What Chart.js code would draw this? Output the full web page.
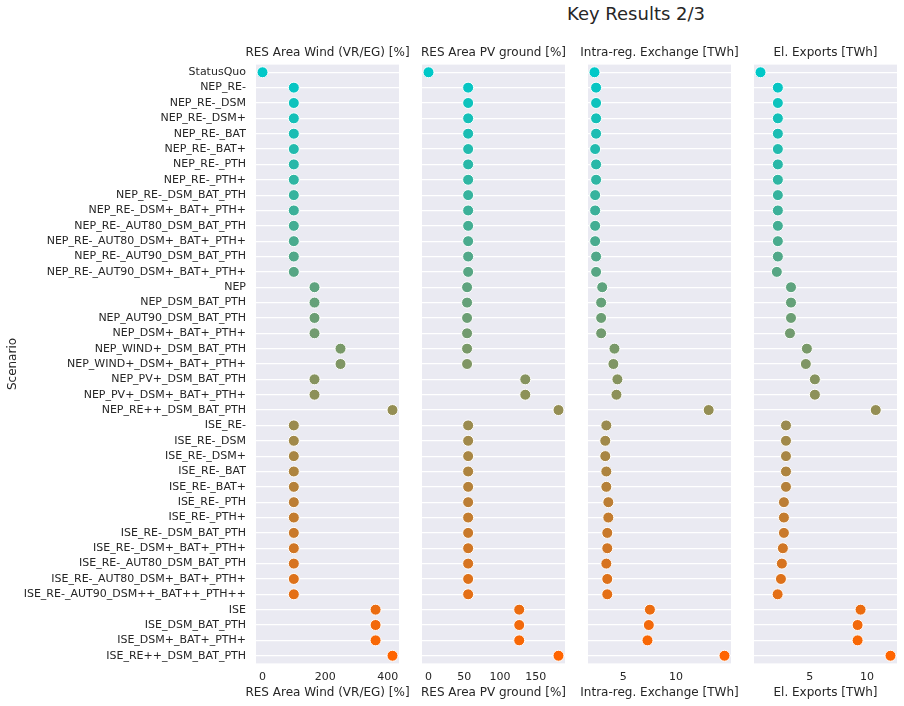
<!DOCTYPE html>
<html>
<head>
<meta charset="utf-8">
<script src="https://cdn.jsdelivr.net/npm/chart.js@4.4.0/dist/chart.umd.min.js"></script>
<style>
  html, body { margin: 0; padding: 0; background: #ffffff; }
  #wrap { position: relative; width: 904px; height: 706px; overflow: hidden; }
  #wrap canvas { position: absolute; top: 0; }
  #suptitle {
    position: absolute; top: 3px; left: 536px; width: 200px;
    text-align: center; font: 18px "DejaVu Sans", sans-serif; color: #262626;
  }
</style>
</head>
<body>
<div id="wrap">
  <div id="suptitle">Key Results 2/3</div>
  <canvas id="c1" width="420" height="706" style="left:0px"></canvas>
  <canvas id="c2" width="167" height="706" style="left:410px"></canvas>
  <canvas id="c3" width="170" height="706" style="left:575px"></canvas>
  <canvas id="c4" width="160" height="706" style="left:744px"></canvas>
</div>
<script>
// scenario names, top to bottom
const scenarios = [
  'StatusQuo', 'NEP_RE-', 'NEP_RE-_DSM', 'NEP_RE-_DSM+', 'NEP_RE-_BAT', 'NEP_RE-_BAT+',
  'NEP_RE-_PTH', 'NEP_RE-_PTH+', 'NEP_RE-_DSM_BAT_PTH', 'NEP_RE-_DSM+_BAT+_PTH+',
  'NEP_RE-_AUT80_DSM_BAT_PTH', 'NEP_RE-_AUT80_DSM+_BAT+_PTH+', 'NEP_RE-_AUT90_DSM_BAT_PTH',
  'NEP_RE-_AUT90_DSM+_BAT+_PTH+', 'NEP', 'NEP_DSM_BAT_PTH', 'NEP_AUT90_DSM_BAT_PTH',
  'NEP_DSM+_BAT+_PTH+', 'NEP_WIND+_DSM_BAT_PTH', 'NEP_WIND+_DSM+_BAT+_PTH+',
  'NEP_PV+_DSM_BAT_PTH', 'NEP_PV+_DSM+_BAT+_PTH+', 'NEP_RE++_DSM_BAT_PTH',
  'ISE_RE-', 'ISE_RE-_DSM', 'ISE_RE-_DSM+', 'ISE_RE-_BAT', 'ISE_RE-_BAT+', 'ISE_RE-_PTH',
  'ISE_RE-_PTH+', 'ISE_RE-_DSM_BAT_PTH', 'ISE_RE-_DSM+_BAT+_PTH+', 'ISE_RE-_AUT80_DSM_BAT_PTH',
  'ISE_RE-_AUT80_DSM+_BAT+_PTH+', 'ISE_RE-_AUT90_DSM++_BAT++_PTH++', 'ISE', 'ISE_DSM_BAT_PTH',
  'ISE_DSM+_BAT+_PTH+', 'ISE_RE++_DSM_BAT_PTH'
];

const windArea = [
  0, 100, 100, 100, 100, 100, 100, 100, 100, 100, 100, 100, 100, 100,
  166, 166, 166, 166, 249, 249, 166, 166, 415,
  100, 100, 100, 100, 100, 100, 100, 100, 100, 100, 100, 100,
  361, 361, 361, 415
];

const pvArea = [
  0, 55.5, 55.5, 55.5, 55.5, 55.5, 55.5, 55.5, 55.5, 55.5, 55.5, 55.5, 55.5, 55.5,
  54, 54, 54, 54, 54, 54, 135.5, 135.5, 182,
  55.5, 55.5, 55.5, 55.5, 55.5, 55.5, 55.5, 55.5, 55.5, 55.5, 55.5, 55.5,
  127, 127, 127, 182
];

const intraExchange = [
  2.28, 2.43, 2.43, 2.43, 2.43, 2.34, 2.43, 2.43, 2.34, 2.34, 2.34, 2.34, 2.43, 2.43,
  3.01, 2.91, 2.91, 2.91, 4.17, 4.07, 4.45, 4.36, 13.1,
  3.4, 3.3, 3.3, 3.4, 3.4, 3.59, 3.59, 3.49, 3.49, 3.4, 3.49, 3.49,
  7.53, 7.43, 7.3, 14.6
];

const elExports = [
  0.68, 2.2, 2.2, 2.2, 2.2, 2.2, 2.2, 2.2, 2.2, 2.2, 2.2, 2.2, 2.2, 2.11,
  3.35, 3.35, 3.35, 3.26, 4.74, 4.65, 5.44, 5.44, 10.77,
  2.91, 2.91, 2.91, 2.91, 2.91, 2.73, 2.73, 2.73, 2.64, 2.55, 2.47, 2.18,
  9.44, 9.18, 9.18, 12.06
];

// x tick labels per panel
const windTicks = [0, 200, 400];
const pvTicks = [0, 50, 100, 150];
const intraTicks = [5, 10];
const exportTicks = [5, 10];

const panelTitles = [
  'RES Area Wind (VR/EG) [%]',
  'RES Area PV ground [%]',
  'Intra-reg. Exchange [TWh]',
  'El. Exports [TWh]'
];

const FONT = '"DejaVu Sans", sans-serif';
const TEXT = '#262626';

// hue per scenario: cyan at the top blending into orange at the bottom
function hueColor(i) {
  const a = [0, 200, 200], b = [255, 100, 0];
  const t = i / (scenarios.length - 1);
  const c = a.map((v, k) => Math.round(v + (b[k] - v) * t));
  return `rgb(${c[0]},${c[1]},${c[2]})`;
}

// grey facet background
const facetBg = {
  id: 'facetBg',
  beforeDraw(chart) {
    const { ctx, chartArea: a } = chart;
    ctx.save();
    ctx.fillStyle = '#eaeaf2';
    ctx.fillRect(a.left, a.top, a.right - a.left, a.bottom - a.top);
    ctx.restore();
  }
};

// facet title above and x label below, centred on the plot area
const facetText = {
  id: 'facetText',
  afterDraw(chart, args, opts) {
    const { ctx, chartArea: a } = chart;
    const cx = (a.left + a.right) / 2;
    ctx.save();
    ctx.fillStyle = TEXT;
    ctx.textAlign = 'center';
    ctx.textBaseline = 'middle';
    ctx.font = '12px ' + FONT;
    ctx.fillText(opts.text, cx, a.top - 11.5);
    ctx.fillText(opts.text, cx, a.bottom + 29);
    ctx.restore();
  }
};

function makePanel(canvasId, values, ticks, title, padL, padR, showY) {
  const lo = Math.min(...values), hi = Math.max(...values);
  const margin = (hi - lo) * 0.05;
  const ctx = document.getElementById(canvasId).getContext('2d');
  return new Chart(ctx, {
    type: 'scatter',
    data: {
      datasets: [{
        data: values.map((v, i) => ({ x: v, y: scenarios[i] })),
        backgroundColor: scenarios.map((s, i) => hueColor(i)),
        borderColor: '#ffffff',
        borderWidth: 1,
        pointRadius: 5.5,
        pointHoverRadius: 5.5
      }]
    },
    options: {
      responsive: false,
      animation: false,
      devicePixelRatio: 1,
      layout: { padding: { top: 64.6, bottom: 0, left: padL, right: padR } },
      plugins: {
        legend: { display: false },
        tooltip: { enabled: false },
        facetText: { text: title }
      },
      scales: {
        x: {
          type: 'linear',
          min: lo - margin,
          max: hi + margin,
          grid: { display: false, drawTicks: false },
          border: { display: false },
          afterBuildTicks: (scale) => { scale.ticks = ticks.map(v => ({ value: v })); },
          afterFit: (scale) => { scale.height = 706 - 663.4; },
          ticks: {
            color: TEXT,
            font: { family: FONT, size: 11 },
            padding: 7,
            maxRotation: 0,
            autoSkip: false
          }
        },
        y: {
          type: 'category',
          labels: scenarios,
          offset: true,
          grid: { color: '#ffffff', lineWidth: 1.2, offset: false, drawTicks: false },
          border: { display: false },
          afterFit: (scale) => { scale.width = showY ? 256 : 0; },
          ticks: {
            display: showY,
            color: TEXT,
            font: { family: FONT, size: 11 },
            padding: 10,
            autoSkip: false
          },
          title: {
            display: showY,
            text: 'Scenario',
            color: TEXT,
            font: { family: FONT, size: 12 },
            padding: { top: 6, bottom: 0 }
          }
        }
      }
    },
    plugins: [facetBg, facetText]
  });
}

makePanel('c1', windArea, windTicks, panelTitles[0], 0, 21, true);
makePanel('c2', pvArea, pvTicks, panelTitles[1], 12, 12, false);
makePanel('c3', intraExchange, intraTicks, panelTitles[2], 13, 14, false);
makePanel('c4', elExports, exportTicks, panelTitles[3], 10, 7, false);
</script>
</body>
</html>
